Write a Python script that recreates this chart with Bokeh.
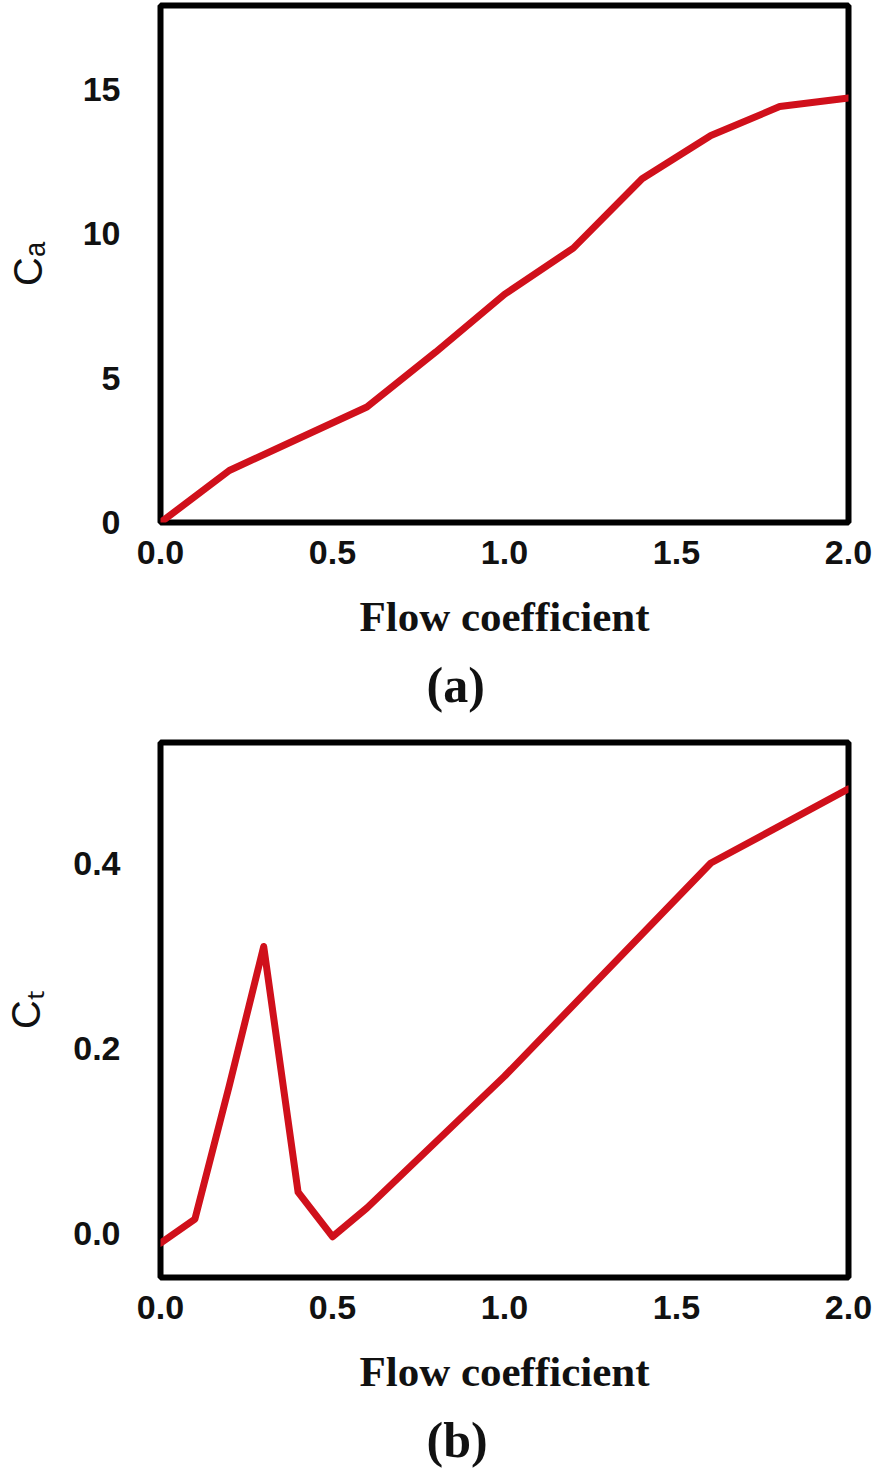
from bokeh.plotting import figure
from bokeh.layouts import column
from bokeh.models import Range1d, FixedTicker, Title, PrintfTickFormatter
from bokeh.embed import file_html
from bokeh.resources import INLINE

# ---- data ----
phi_a = [0.0, 0.2, 0.4, 0.6, 0.8, 1.0, 1.2, 1.4, 1.6, 1.8, 2.0]
ca = [0.0, 1.8, 2.9, 4.0, 5.9, 7.9, 9.5, 11.9, 13.4, 14.4, 14.7]

phi_b = [0.0, 0.1, 0.2, 0.3, 0.4, 0.5, 0.6, 1.0, 1.6, 2.0]
ct = [-0.01, 0.016, 0.16, 0.31, 0.045, -0.003, 0.028, 0.17, 0.40, 0.48]

x_ticks = [0.0, 0.5, 1.0, 1.5, 2.0]
ya_ticks = [0, 5, 10, 15]
yb_ticks = [0.0, 0.2, 0.4]

x_title = "Flow coefficient"
captions = ["(a)", "(b)"]
y_titles = ["C\u2090", "C\u209c"]

RED = "#d0101b"
SANS = "Liberation Sans"
SERIF = "Liberation Serif"


def make_fig(xs, ys, y_range, yticks, yfmt, height, top, bottom, cap, ytitle, ystand):
    p = figure(width=874, height=height, output_backend="svg", toolbar_location=None,
               x_range=Range1d(0, 2), y_range=Range1d(*y_range),
               min_border_left=160, min_border_right=26,
               min_border_top=top, min_border_bottom=bottom)
    p.grid.visible = False
    p.outline_line_color = "black"
    p.outline_line_width = 6
    p.background_fill_color = "white"
    p.border_fill_color = "white"
    for ax in (p.xaxis[0], p.yaxis[0]):
        ax.axis_line_color = None
        ax.major_tick_line_color = None
        ax.minor_tick_line_color = None
        ax.major_label_text_font = SANS
        ax.major_label_text_font_style = "bold"
        ax.major_label_text_font_size = "34px"
        ax.major_label_text_color = "#111111"
    p.xaxis.ticker = FixedTicker(ticks=x_ticks)
    p.xaxis.formatter = PrintfTickFormatter(format="%.1f")
    p.xaxis.major_label_standoff = 12
    p.xaxis.axis_label = x_title
    p.xaxis.axis_label_text_font = SERIF
    p.xaxis.axis_label_text_font_style = "bold"
    p.xaxis.axis_label_text_font_size = "43px"
    p.xaxis.axis_label_text_color = "#111111"
    p.xaxis.axis_label_standoff = 26
    p.yaxis.ticker = FixedTicker(ticks=yticks)
    p.yaxis.formatter = PrintfTickFormatter(format=yfmt)
    p.yaxis.major_label_standoff = 34
    p.yaxis.axis_label = ytitle
    p.yaxis.axis_label_text_font = SANS
    p.yaxis.axis_label_text_font_style = "normal"
    p.yaxis.axis_label_text_font_size = "40px"
    p.yaxis.axis_label_text_color = "#111111"
    p.yaxis.axis_label_standoff = ystand

    p.line(xs, ys, line_color=RED, line_width=7, line_join="round", line_cap="round")

    p.add_layout(Title(text=cap, text_font=SERIF, text_font_style="bold",
                       text_font_size="50px", align="left", offset=266,
                       text_color="#111111", standoff=24), "below")
    return p


p1 = make_fig(phi_a, ca, (0, 17.9), ya_ticks, "%d", 730, 5, 208, captions[0], y_titles[0], 30)
p2 = make_fig(phi_b, ct, (-0.047, 0.53), yb_ticks, "%.1f", 750, 12, 203, captions[1], y_titles[1], 22)

layout = column(p1, p2, spacing=0)
open("out.html", "w").write(file_html(layout, INLINE))
